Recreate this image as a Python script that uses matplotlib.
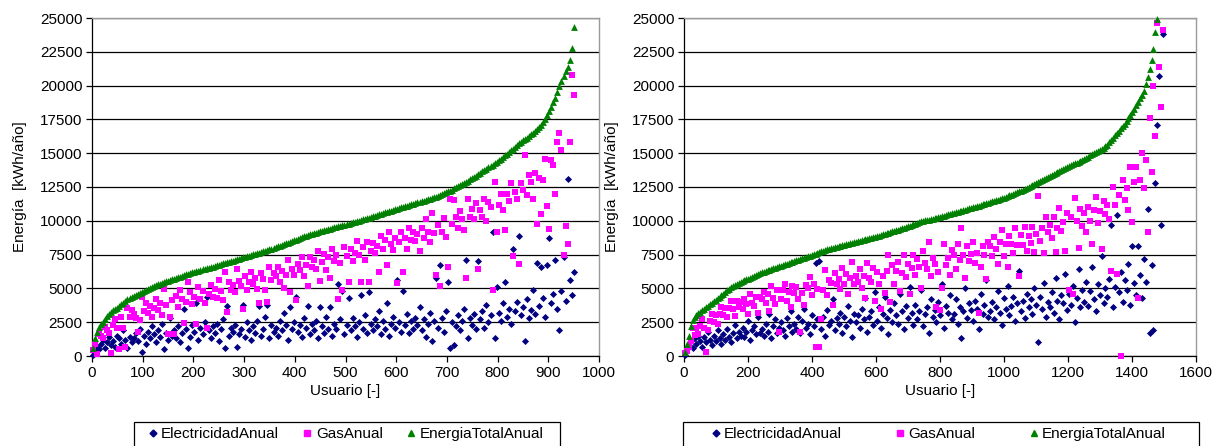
import numpy as np
import matplotlib
matplotlib.use('Agg')
import matplotlib.pyplot as plt
from matplotlib.patches import Rectangle

plt.rcParams['font.family'] = ['Liberation Sans', 'DejaVu Sans']
plt.rcParams['font.size'] = 11

# ---- data (kWh/año) ----
series_names = ['ElectricidadAnual', 'GasAnual', 'EnergiaTotalAnual']

# left panel: ~950 usuarios, every 4th user
users_left = np.arange(2, 951, 4)
elec_left = [
    100, 400, 700, 550, 900, 1200, 600, 1000, 1400, 800,
    1100, 700, 1500, 1300, 900, 1900, 1200, 600, 1400, 1000,
    1300, 1700, 1100, 2000, 300, 1500, 900, 1800, 1300, 2200,
    1600, 1000, 1900, 1400, 2400, 500, 1700, 1200, 2800, 1500,
    1900, 1300, 2200, 1000, 1700, 3500, 2000, 600, 1400, 2300,
    1800, 3900, 1200, 2100, 1600, 2500, 4400, 1900, 1300, 2200,
    1700, 2400, 1100, 2000, 2700, 600, 3700, 1500, 2100, 1800,
    2300, 700, 1600, 2000, 3800, 1400, 2500, 1900, 1200, 2200,
    1700, 2600, 3700, 1500, 2000, 2900, 3800, 1300, 2300, 1800,
    2100, 1500, 2600, 1900, 3200, 2300, 1200, 3650, 2000, 2500,
    4400, 1800, 2300, 1400, 2800, 2100, 3700, 1600, 2400, 1900,
    2600, 1300, 3600, 2200, 1700, 2900, 2000, 3600, 1500, 2400,
    2000, 5300, 2700, 4800, 1600, 2300, 4300, 1900, 2800, 2200,
    1400, 2500, 4500, 2000, 3000, 1700, 4700, 2400, 1900, 2700,
    2200, 3300, 1600, 2600, 2000, 3900, 1500, 2400, 2900, 2100,
    5600, 2500, 1800, 4800, 2300, 3100, 1700, 2600, 2000, 2800,
    2300, 3600, 1900, 2700, 1400, 2400, 3200, 1100, 2600, 5800,
    2100, 6700, 2800, 1800, 3300, 5500, 600, 2500, 800, 2200,
    3000, 1900, 2600, 3500, 7100, 1300, 2800, 2300, 3100, 2000,
    7000, 2700, 3300, 2100, 3800, 2500, 3000, 9200, 1300, 5100,
    3200, 2600, 3900, 5500, 2900, 3500, 2400, 7900, 3300, 4000,
    8900, 3000, 3600, 1100, 4200, 2800, 3400, 4900, 3100, 6900,
    3700, 6600, 4300, 2900, 6700, 8700, 3900, 4600, 7100, 3500,
    1900, 4800, 7300, 4100, 13100, 5600, 4500, 6200,
]
gas_left = [
    450, 900, 150, 1600, 1500, 1350, 2150, 1950, 1700, 250,
    2300, 2750, 2100, 500, 2900, 2050, 700, 3550, 2900, 3400,
    3100, 2800, 1800, 2650, 4400, 3300, 3950, 3150, 3700, 2900,
    3550, 4200, 3400, 3900, 3000, 4950, 3800, 1600, 2850, 4150,
    1600, 4450, 3600, 4850, 4200, 2450, 4000, 5450, 4700, 3850,
    4400, 2350, 5100, 4250, 4800, 3950, 2100, 4600, 5250, 4400,
    4950, 4300, 5650, 4800, 4150, 6250, 3250, 5450, 4900, 5250,
    4750, 6400, 5550, 5200, 3450, 5900, 4850, 5500, 6250, 5300,
    5800, 4950, 3950, 6150, 5700, 4850, 4000, 6550, 5600, 6150,
    5900, 6550, 5500, 6300, 5000, 6000, 7100, 4750, 6450, 6000,
    4150, 6800, 6350, 7300, 5950, 6700, 5200, 7350, 6600, 7100,
    6450, 7800, 5550, 6950, 7550, 6350, 7300, 5750, 7900, 7050,
    7500, 4250, 6900, 4850, 8050, 7400, 5450, 7900, 7050, 7650,
    8500, 7450, 5500, 8050, 7100, 8400, 5500, 7800, 8350, 7600,
    8150, 6200, 8850, 7900, 8550, 6700, 9150, 8300, 7850, 8700,
    5400, 8400, 9150, 6200, 8750, 7950, 9450, 8600, 9200, 8500,
    9000, 7750, 9500, 8750, 10100, 9150, 8400, 10550, 9100, 6000,
    9700, 5200, 9150, 10200, 8800, 6600, 11600, 9800, 11550, 10250,
    9500, 10700, 10100, 9300, 5800, 11600, 10250, 10850, 10100, 11300,
    6400, 10800, 10300, 11600, 10000, 11400, 11000, 4900, 12900, 9200,
    11200, 12000, 10800, 9300, 12000, 11500, 12800, 7400, 12100, 11600,
    6800, 12800, 12300, 14900, 11900, 13400, 12900, 11600, 13500, 9800,
    13200, 10500, 13000, 14600, 11100, 9400, 14500, 14100, 12000, 15800,
    16500, 15200, 7500, 9600, 8300, 15800, 20800, 19300,
]
total_left = [
    600, 1300, 1800, 2150, 2400, 2550, 2750, 2950, 3100, 3250,
    3380, 3480, 3580, 3700, 3820, 3950, 4080, 4200, 4300, 4400,
    4450, 4520, 4580, 4650, 4720, 4790, 4870, 4950, 5030, 5100,
    5170, 5230, 5290, 5340, 5400, 5460, 5520, 5580, 5640, 5690,
    5730, 5780, 5830, 5880, 5930, 5980, 6030, 6080, 6130, 6180,
    6230, 6270, 6320, 6360, 6400, 6440, 6480, 6520, 6570, 6610,
    6660, 6700, 6750, 6800, 6850, 6890, 6940, 6980, 7020, 7060,
    7100, 7150, 7200, 7240, 7290, 7330, 7380, 7420, 7470, 7510,
    7560, 7600, 7650, 7700, 7750, 7800, 7850, 7900, 7950, 8000,
    8050, 8110, 8170, 8220, 8280, 8340, 8390, 8450, 8500, 8560,
    8610, 8670, 8730, 8780, 8840, 8890, 8940, 8990, 9040, 9090,
    9130, 9170, 9220, 9260, 9300, 9340, 9390, 9430, 9470, 9510,
    9550, 9600, 9640, 9680, 9720, 9760, 9800, 9840, 9880, 9920,
    9960, 10010, 10050, 10100, 10140, 10190, 10230, 10280, 10320, 10370,
    10420, 10470, 10520, 10570, 10620, 10670, 10720, 10760, 10810, 10860,
    10900, 10950, 11000, 11040, 11090, 11130, 11180, 11220, 11270, 11310,
    11360, 11400, 11450, 11500, 11540, 11590, 11640, 11690, 11740, 11790,
    11850, 11910, 11970, 12030, 12100, 12170, 12240, 12310, 12390, 12470,
    12550, 12630, 12710, 12800, 12890, 12980, 13070, 13160, 13250, 13350,
    13450, 13550, 13650, 13750, 13850, 13950, 14050, 14150, 14260, 14370,
    14480, 14600, 14720, 14840, 14960, 15080, 15210, 15340, 15470, 15600,
    15720, 15830, 15940, 16050, 16160, 16270, 16390, 16510, 16640, 16780,
    16930, 17100, 17300, 17550, 17800, 18100, 18400, 18750, 19100, 19500,
    19950, 20350, 20700, 21050, 21400, 21900, 22800, 24300,
]

# right panel: ~1500 usuarios, every 6th user
users_right = np.arange(3, 1498, 6)
users_right_total = np.arange(3, 1480, 6)
elec_right = [
    100, 500, 800, 1100, 600, 1300, 900, 1500, 1100, 700,
    1400, 1000, 1800, 1200, 800, 1500, 1100, 1900, 1300, 900,
    1600, 1200, 2000, 1400, 1000, 1700, 2300, 1300, 1800, 1500,
    2100, 1400, 1800, 2600, 1200, 1900, 2200, 1600, 2900, 1700,
    2000, 1500, 2400, 1800, 3100, 1300, 2200, 2700, 1700, 2100,
    2500, 1900, 1500, 2800, 2200, 3300, 1800, 2400, 2000, 2900,
    1700, 2600, 3500, 2100, 2400, 1600, 3000, 2200, 6900, 2700,
    7000, 2000, 2900, 1500, 3400, 2300, 2600, 4200, 1900, 2800,
    2400, 3200, 1700, 2900, 2200, 3700, 2600, 1400, 3100, 2500,
    3000, 2100, 3500, 2700, 4300, 1800, 2900, 3300, 2300, 4700,
    2600, 3600, 2100, 3100, 4400, 2800, 1600, 3400, 2500, 3900,
    3000, 2400, 4600, 3300, 2000, 3700, 2800, 5100, 3200, 2300,
    3800, 2700, 3300, 4900, 2200, 3100, 3600, 1700, 4200, 2900,
    3400, 2500, 4000, 3000, 5300, 2100, 3700, 3200, 4500, 2700,
    3100, 4200, 2400, 3600, 1300, 3300, 5000, 2800, 3900, 3400,
    2600, 4100, 3500, 2000, 4600, 3100, 3800, 5600, 2900, 3300,
    4000, 2700, 3600, 4800, 3200, 2300, 4300, 3500, 5200, 3000,
    3700, 4400, 2600, 3900, 6300, 3300, 4100, 2800, 4600, 3600,
    4200, 3100, 5000, 3800, 1000, 4400, 3500, 5400, 2900, 4000,
    3600, 4700, 3200, 5800, 4100, 2700, 4500, 3900, 6100, 3400,
    4600, 3800, 5200, 2500, 4300, 6400, 3600, 4900, 4000, 5500,
    3700, 4800, 6600, 4200, 3300, 5300, 4500, 7400, 3900, 5000,
    4400, 5700, 9700, 3600, 5100, 10400, 4700, 6200, 4000, 5600,
    4900, 6800, 3800, 8100, 5400, 4500, 8100, 6000, 4300, 7200,
    5500, 10900, 1700, 6700, 1900, 12800, 17100, 20700, 9700, 23800,
]
gas_right = [
    200, 400, 700, 1100, 2050, 1550, 2100, 1650, 2200, 2700,
    2100, 300, 1900, 2600, 3100, 2500, 3050, 2350, 3100, 3600,
    3000, 3550, 2850, 3550, 4100, 3500, 2950, 4050, 3600, 4000,
    3450, 4200, 3850, 3100, 4600, 3950, 3700, 4400, 3150, 4400,
    4200, 4750, 3900, 4550, 3300, 5150, 4300, 3850, 4900, 1800,
    4200, 4850, 5300, 4050, 4700, 3650, 5200, 4650, 5100, 4250,
    1800, 4650, 3800, 5250, 5000, 5850, 4500, 5350, 700, 4950,
    650, 2700, 4900, 6350, 4500, 5650, 5400, 3800, 6150, 5300,
    5700, 4950, 6500, 5300, 6050, 4600, 5750, 6950, 5300, 5950,
    5450, 6400, 5050, 5900, 4300, 6850, 5800, 5450, 6500, 4100,
    6250, 5300, 3500, 5900, 4650, 6300, 7500, 4000, 6700, 5350,
    6300, 6950, 4800, 6150, 7500, 5850, 6800, 4550, 6500, 7450,
    6000, 7150, 6600, 5050, 7800, 6900, 6450, 8400, 5900, 7250,
    6800, 3650, 6250, 3400, 5050, 8300, 6700, 7250, 6000, 7850,
    7500, 6400, 8300, 7100, 9450, 7500, 5800, 8100, 7000, 7550,
    8400, 6900, 7600, 3200, 6550, 8100, 7450, 5700, 8450, 8100,
    7400, 8800, 7900, 6800, 8400, 9350, 7400, 8250, 6600, 8900,
    8250, 7600, 9450, 8200, 5900, 8950, 8200, 9550, 7800, 8900,
    8350, 9550, 7700, 9000, 11800, 8500, 9500, 7650, 10250, 9200,
    9700, 8700, 10250, 7700, 9500, 10950, 9250, 9900, 7800, 10550,
    4900, 10300, 4600, 11700, 10000, 8000, 10850, 9600, 10600, 9150,
    11050, 10000, 8300, 10800, 11750, 9850, 10750, 7900, 11500, 10500,
    11200, 10100, 6300, 12500, 11200, 6100, 11900, 0, 13000, 11550,
    12450, 10800, 14000, 9900, 12900, 14000, 4300, 13050, 15000, 12400,
    14500, 9200, 17600, 13600, 20000, 16300, 24600, 21400, 18400, 24100,
]
total_right = [
    300, 900, 1500, 2200, 2650, 2850, 3000, 3150, 3280, 3390,
    3500, 3610, 3720, 3830, 3930, 4040, 4160, 4270, 4390, 4500,
    4620, 4740, 4860, 4970, 5080, 5180, 5270, 5350, 5420, 5480,
    5540, 5600, 5660, 5720, 5790, 5850, 5910, 5980, 6040, 6110,
    6190, 6240, 6290, 6340, 6390, 6440, 6490, 6540, 6590, 6640,
    6690, 6740, 6790, 6840, 6880, 6930, 6980, 7030, 7080, 7130,
    7180, 7230, 7280, 7330, 7380, 7430, 7480, 7530, 7580, 7630,
    7680, 7730, 7780, 7830, 7880, 7930, 7970, 8010, 8050, 8080,
    8120, 8150, 8190, 8220, 8260, 8300, 8330, 8370, 8400, 8440,
    8470, 8510, 8550, 8580, 8620, 8660, 8700, 8750, 8790, 8830,
    8870, 8910, 8960, 9000, 9040, 9080, 9120, 9170, 9210, 9250,
    9300, 9350, 9400, 9450, 9500, 9550, 9600, 9650, 9700, 9750,
    9800, 9850, 9900, 9950, 9990, 10030, 10060, 10090, 10120, 10150,
    10190, 10230, 10270, 10310, 10350, 10390, 10430, 10470, 10510, 10550,
    10590, 10630, 10670, 10710, 10750, 10790, 10830, 10870, 10910, 10950,
    10990, 11030, 11080, 11120, 11170, 11210, 11260, 11300, 11350, 11390,
    11430, 11480, 11520, 11570, 11610, 11660, 11700, 11760, 11820, 11880,
    11940, 12000, 12060, 12120, 12180, 12240, 12300, 12360, 12420, 12490,
    12560, 12630, 12700, 12770, 12840, 12920, 13000, 13070, 13150, 13230,
    13320, 13390, 13460, 13530, 13600, 13670, 13740, 13810, 13880, 13950,
    14030, 14100, 14170, 14240, 14310, 14380, 14450, 14520, 14590, 14670,
    14750, 14830, 14910, 14990, 15070, 15150, 15240, 15330, 15420, 15510,
    15620, 15800, 15970, 16140, 16310, 16480, 16650, 16830, 17000, 17170,
    17360, 17580, 17800, 18030, 18280, 18540, 18800, 19070, 19340, 19620,
    20100, 20600, 21200, 21900, 22700, 24000, 24900,
]

y_ticks = np.arange(0, 25001, 2500)
x_ticks_left = np.arange(0, 1001, 100)
x_ticks_right = np.arange(0, 1601, 200)

W, H = 1214, 446


def draw_panel(ax, users, users_total, elec, gas, total, xticks):
    ax.scatter(users, elec, marker='D', s=13, color='#000080', linewidths=0, clip_on=False, zorder=3)
    ax.scatter(users, gas, marker='s', s=19, color='#FF00FF', linewidths=0, clip_on=False, zorder=3)
    ax.scatter(users_total, total, marker='^', s=24, color='#008000', linewidths=0, clip_on=False, zorder=4)

    ax.set_xlim(xticks[0], xticks[-1])
    ax.set_ylim(0, 25000)
    ax.set_xticks(xticks)
    ax.set_yticks(y_ticks)
    ax.yaxis.grid(True, color='black', linewidth=0.9)
    ax.set_axisbelow(True)
    ax.tick_params(direction='out', length=4, width=0.9, color='black', labelsize=11, pad=3)
    for side in ('left', 'bottom'):
        ax.spines[side].set_color('black')
        ax.spines[side].set_linewidth(0.9)
    for side in ('top', 'right'):
        ax.spines[side].set_color('#9a9a9a')
        ax.spines[side].set_linewidth(1.0)
    ax.set_xlabel('Usuario [-]', labelpad=3)
    ax.set_ylabel('Energía  [kWh/año]', labelpad=9)


def draw_legend(fig, ax, box_left, box_right, handle_x, spacing):
    # legend entries without frame, frame drawn as a box running off the bottom edge
    handles = [
        plt.Line2D([], [], marker='D', markersize=3.5, color='#000080', linestyle='none'),
        plt.Line2D([], [], marker='s', markersize=4.5, color='#FF00FF', linestyle='none'),
        plt.Line2D([], [], marker='^', markersize=4.5, color='#008000', linestyle='none'),
    ]
    ax.legend(handles, series_names, ncol=3, loc='upper left',
              bbox_to_anchor=(handle_x / W, 1 - 427 / H), bbox_transform=fig.transFigure,
              frameon=False, borderpad=0, borderaxespad=0,
              handlelength=0.5, handletextpad=0.3, columnspacing=spacing, fontsize=11)
    fig.add_artist(Rectangle((box_left / W, -0.05), (box_right - box_left) / W, 0.05 + 1 - 422 / H,
                             transform=fig.transFigure, fill=False, edgecolor='black',
                             linewidth=0.9, clip_on=False))


fig = plt.figure(figsize=(W / 100, H / 100), dpi=100)
ax1 = fig.add_axes([92 / W, 1 - 356 / H, 507 / W, 338 / H])
ax2 = fig.add_axes([684 / W, 1 - 356 / H, 512 / W, 338 / H])

draw_panel(ax1, users_left, users_left, elec_left, gas_left, total_left, x_ticks_left)
draw_panel(ax2, users_right, users_right_total, elec_right, gas_right, total_right, x_ticks_right)

draw_legend(fig, ax1, 134, 560, 149, 1.6)
draw_legend(fig, ax2, 683, 1199, 712, 3.55)

fig.savefig('out.png', dpi=100)
